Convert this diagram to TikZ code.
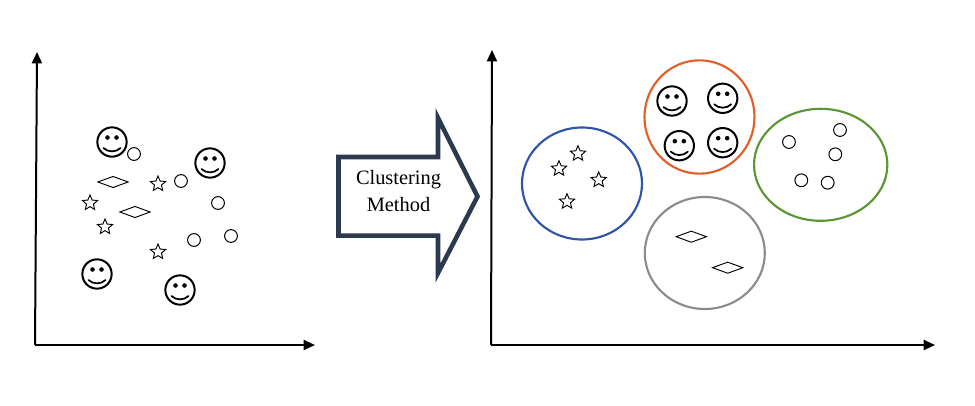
\documentclass[tikz,border=0pt]{standalone}
\usepackage{fontspec}
\setmainfont{Liberation Serif}
\usetikzlibrary{arrows.meta,shapes.geometric}
\definecolor{arrowblue}{HTML}{2B3A4F}
\definecolor{cblue}{HTML}{2F55A8}
\definecolor{corange}{HTML}{E0602A}
\definecolor{cgreen}{HTML}{5A9632}
\definecolor{cgray}{HTML}{8C8C8C}
\tikzset{
  axis/.style={draw=black,line width=1.5pt,-{Triangle[length=8.5pt,width=7.5pt]}},
  pt/.style={draw=black,circle,line width=0.75pt,minimum size=9.6pt,inner sep=0pt,fill=white},
  dia/.style={draw=black,diamond,line width=0.7pt,minimum width=23pt,minimum height=8.6pt,inner sep=0pt,aspect=2.7},
  st/.style={draw=black,star,star points=5,star point ratio=2.2,line width=0.7pt,minimum size=12pt,inner sep=0pt},
  cluster/.style={draw,ellipse,line width=1.6pt,inner sep=0pt},
  smileyface/.style={draw=black,circle,line width=1.5pt,minimum size=22pt,inner sep=0pt},
  bigarrow/.style={draw=arrowblue,line width=3.4pt,miter limit=10,line join=miter,fill=white},
  pics/smile/.style={code={
    \node[smileyface] (-f) at (0,0) {};
    \fill (-4.5,-4.5) circle[radius=2.3];
    \fill (4.5,-4.5) circle[radius=2.3];
    \draw[line width=1.3pt,line cap=round] (-8.5,6) .. controls (-4,10.5) and (4,10.5) .. (8.5,6);
  }}
}
\begin{document}
\begin{tikzpicture}[x=0.75pt,y=-0.75pt]
\useasboundingbox (0,0) rectangle (975,406);
% axes
\coordinate (o1) at (35,345);
\coordinate (y1) at (37,52);
\coordinate (x1) at (315,345);
\coordinate (o2) at (491,345);
\coordinate (y2) at (492,50);
\coordinate (x2) at (935,345);
\draw[axis] (o1) -- (y1);
\draw[axis] (o1) -- (x1);
\draw[axis] (o2) -- (y2);
\draw[axis] (o2) -- (x2);
% left scatter
\pic (s1) at (112,142) {smile};
\pic (s2) at (210,163) {smile};
\pic (s3) at (97,274) {smile};
\pic (s4) at (180,290) {smile};
\node[pt] (c1) at (134,154) {};
\node[pt] (c2) at (181,181) {};
\node[pt] (c3) at (218,203) {};
\node[pt] (c4) at (194,240) {};
\node[pt] (c5) at (231,236) {};
\node[dia] (d1) at (113,182) {};
\node[dia] (d2) at (135,212) {};
\node[st] (t1) at (158,184) {};
\node[st] (t2) at (90,203) {};
\node[st] (t3) at (105,227) {};
\node[st] (t4) at (158,252) {};
% arrow
\draw[bigarrow] (338.5,157) -- (438,157) -- (438,118) -- (477.5,196.5) -- (438,273) -- (438,235.7) -- (338.5,235.7) -- cycle;
\node[align=center,font=\fontsize{15.3pt}{20pt}\selectfont] (lab) at (398.5,191) {Clustering\\Method};
% clusters
\node[cluster,draw=corange,minimum width=82.5pt,minimum height=85pt] (eo) at (699.5,117) {};
\node[cluster,draw=cblue,minimum width=90pt,minimum height=84pt] (eb) at (582,183.5) {};
\node[cluster,draw=cgreen,minimum width=100pt,minimum height=84pt] (eg) at (820.7,164.8) {};
\node[cluster,draw=cgray,minimum width=90pt,minimum height=84pt] (ey) at (704.8,253) {};
\pic (r1) at (672,101) {smile};
\pic (r2) at (722.7,98.3) {smile};
\pic (r3) at (679.3,145.7) {smile};
\pic (r4) at (722.7,142.7) {smile};
\node[st] (u1) at (578,153.7) {};
\node[st] (u2) at (559,168.7) {};
\node[st] (u3) at (598.7,180) {};
\node[st] (u4) at (567,201.7) {};
\node[dia] (e1) at (691.3,236.7) {};
\node[dia] (e2) at (727.7,267.7) {};
\node[pt] (k1) at (840,130) {};
\node[pt] (k2) at (789,142) {};
\node[pt] (k3) at (835.3,154.3) {};
\node[pt] (k4) at (801.3,180.3) {};
\node[pt] (k5) at (827.7,182.7) {};
\end{tikzpicture}
\end{document}
